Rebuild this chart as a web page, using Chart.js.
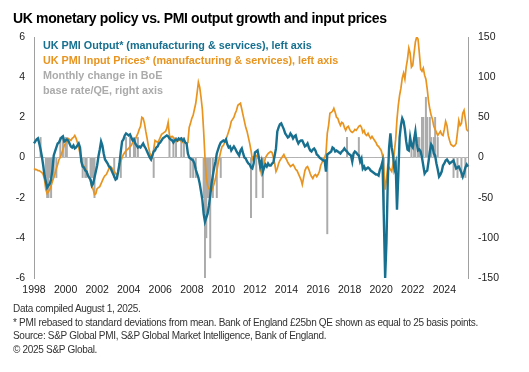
<!DOCTYPE html>
<html>
<head>
<meta charset="utf-8">
<script src="https://cdn.jsdelivr.net/npm/chart.js@4.4.1/dist/chart.umd.min.js"></script>
<style>
  html, body { margin: 0; padding: 0; background: #fff; }
  #wrap { position: relative; width: 529px; height: 372px; font-family: 'Liberation Sans', Arial, sans-serif; }
  #chart { position: absolute; left: 0; top: 0; }
  .title { position: absolute; left: 13px; top: 10px; font-size: 14px; font-weight: bold; color: #000; letter-spacing: -0.35px; white-space: nowrap; }
  .leg { position: absolute; left: 43px; font-size: 10.8px; font-weight: bold; white-space: nowrap; line-height: 14.5px; }
  .foot { position: absolute; left: 13px; top: 302px; font-size: 10px; color: #333; line-height: 13.7px; letter-spacing: -0.3px; white-space: nowrap; }
</style>
</head>
<body>
<div id="wrap">
  <canvas id="chart" width="529" height="372"></canvas>
  <div class="title">UK monetary policy vs. PMI output growth and input prices</div>
  <div class="leg" style="top:38px;color:#17708f">UK PMI Output* (manufacturing &amp; services), left axis</div>
  <div class="leg" style="top:53px;color:#e8941f">UK PMI Input Prices* (manufacturing &amp; services), left axis</div>
  <div class="leg" style="top:68px;color:#ababab">Monthly change in BoE<br>base rate/QE, right axis</div>
  <div class="foot">Data compiled August 1, 2025.<br>* PMI rebased to standard deviations from mean. Bank of England £25bn QE shown as equal to 25 basis points.<br>Source: S&amp;P Global PMI, S&amp;P Global Market Intelligence, Bank of England.<br>© 2025 S&amp;P Global.</div>
</div>
<script>
const startYear = 1998;
const yearTicks = ['1998', '2000', '2002', '2004', '2006', '2008', '2010', '2012', '2014', '2016', '2018', '2020', '2022', '2024'];

// UK PMI output, standard deviations from mean (monthly from Jan 1998)
const pmiOutput = [
  0.7, 0.8, 0.9, 0.95, 0.7, 0.4, 0.05, -0.4, -0.9, -1.2, -1.5, -1.4,
  -1.3, -1.1, -0.6, 0.1, 0.3, 0.5, 0.7, 0.75, 0.9, 1.0, 1.05, 0.8,
  0.85, 0.9, 0.85, 0.7, 0.55, 0.5, 0.6, 0.45, 0.5, 0.6, 0.7, 0.5,
  -0.2, -0.45, -0.5, -0.65, -0.7, -0.9, -1.0, -1.1, -1.4, -1.3, -1.0, -0.7,
  -0.4, 0.05, 0.4, 0.8, 0.6, 0.2, -0.1, -0.2, -0.3, -0.45, -0.5, -0.65,
  -0.8, -0.95, -1.1, -1.05, -0.7, -0.3, 0.3, 0.8, 0.9, 1.1, 1.2, 1.15,
  1.1, 1.15, 1.0, 0.85, 0.9, 0.7, 0.6, 0.5, 0.55, 0.5, 0.6, 0.7,
  0.55, 0.45, 0.3, 0.15, 0.0, -0.1, 0.1, 0.3, 0.35, 0.5, 0.55, 0.7,
  0.75, 0.85, 0.95, 1.0, 1.05, 1.1, 1.05, 0.95, 0.9, 0.85, 0.75, 0.85,
  0.9, 0.85, 0.95, 0.9, 0.95, 0.85, 0.9, 0.75, 0.7, 0.2, 0.0, -0.05,
  -0.1, -0.15, -0.3, -0.6, -0.8, -1.0, -1.3, -1.7, -2.1, -2.8, -3.2, -3.0,
  -2.8, -2.4, -1.9, -1.3, -0.9, -0.5, -0.2, 0.2, 0.4, 0.6, 0.75, 0.8,
  0.85, 0.8, 0.9, 0.65, 0.5, 0.55, 0.35, 0.45, 0.55, 0.45, 0.3, 0.2,
  0.1, 0.35, 0.45, 0.2, 0.0, -0.05, -0.2, -0.3, -0.35, -0.5, -0.55, -0.3,
  0.25, 0.3, 0.35, 0.0, -0.45, -0.2, -0.7, -0.5, -0.35, -0.45, -0.3, -0.4,
  -0.4, -0.3, -0.25, 0.1, 0.45, 1.3, 1.5, 1.65, 1.7, 1.55, 1.4, 1.2,
  1.1, 1.0, 1.05, 1.2, 1.1, 0.95, 1.05, 1.1, 0.85, 0.7, 0.8, 0.85,
  0.85, 0.7, 0.55, 0.6, 0.7, 0.5, 0.35, 0.3, 0.4, 0.45, 0.35, 0.15,
  0.1, 0.0, -0.05, -0.1, -0.15, -0.15, -0.7, 0.15, 0.2, 0.25, 0.3, 0.5,
  0.45, 0.3, 0.35, 0.3, 0.25, 0.2, 0.3, 0.35, 0.45, 0.35, 0.3, 0.2,
  0.15, 0.1, -0.2, 0.2, 0.3, 0.25, 0.15, 0.1, -0.2, -0.05, -0.55, -0.45,
  -0.6, -0.55, -0.5, -0.55, -0.65, -0.7, -0.75, -0.8, -0.85, -0.85, -0.9, -0.6,
  -0.45, -0.2, -3.0, -6.0, -4.2, -1.2, 0.5, 1.2, 0.5, 0.1, -0.55, -0.3,
  -2.6, -0.9, 1.0, 1.6, 1.95, 1.8, 1.4, 0.8, 0.4, 0.35, 1.0, 0.6,
  0.5, 0.9, 1.3, 0.7, 0.35, 0.4, 0.3, 0.0, -0.4, -0.8, -0.7, -0.65,
  -0.2, 0.3, 0.65, 0.55, 0.2, 0.1, -0.3, -0.6, -0.95, -0.85, -0.7, -0.4,
  -0.3, -0.15, -0.1, -0.2, -0.3, -0.25, -0.2, -0.15, -0.35, -0.55, -0.5, -0.45,
  -0.6, -0.75, -0.95, -0.75, -0.5, -0.35, -0.45
];

// UK PMI input prices, standard deviations from mean
const pmiInput = [
  -0.55, -0.6, -0.6, -0.65, -0.65, -0.7, -0.75, -0.85, -1.1, -1.6, -1.8, -1.7,
  -1.6, -1.4, -1.2, -1.0, -0.8, -0.55, -0.35, -0.1, 0.0, 0.2, 0.4, 0.6,
  0.7, 0.85, 0.95, 0.9, 0.85, 0.95, 1.0, 1.1, 0.95, 0.75, 0.5, 0.2,
  -0.2, -0.35, -0.45, -0.55, -0.7, -0.85, -1.0, -1.2, -1.45, -1.6, -1.85, -1.8,
  -1.55, -1.5, -1.45, -1.3, -1.15, -1.0, -0.9, -0.85, -0.7, -0.55, -0.45, -0.5,
  -0.6, -0.7, -0.8, -0.9, -0.7, -0.35, -0.2, 0.0, 0.15, 0.25, 0.35, 0.4,
  0.45, 0.55, 0.6, 0.75, 0.8, 0.9, 1.05, 1.2, 1.4, 1.55, 2.0, 1.95,
  1.7, 1.3, 0.95, 0.55, 0.25, 0.05, 0.0, 0.4, 0.85, 0.8, 0.75, 0.85,
  1.0, 1.15, 1.2, 1.25, 1.3, 1.45, 1.75, 1.1, 1.0, 1.05, 1.0, 0.9,
  0.8, 0.8, 0.85, 0.9, 0.8, 0.75, 0.8, 0.75, 0.7, 0.75, 1.5, 1.7,
  1.95, 2.1, 2.4, 2.7, 3.2, 3.75, 3.5, 3.0, 2.4, 1.3, 0.0, -1.0,
  -1.4, -1.55, -1.6, -1.65, -1.5, -1.3, -1.05, -0.7, -0.3, 0.0, 0.3, 0.55,
  0.6, 0.75, 0.9, 1.1, 1.3, 1.5, 1.8, 1.9, 2.0, 2.2, 2.35, 2.6,
  2.65, 2.7, 2.4, 2.1, 1.8, 1.5, 1.3, 1.0, 0.7, 0.35, -0.1, 0.05,
  0.05, 0.1, 0.0, -0.1, -0.5, -0.85, -0.7, -0.3, 0.0, 0.1, 0.2, 0.25,
  0.3, 0.25, 0.0, -0.3, -0.7, -0.55, -0.3, -0.15, -0.05, 0.05, 0.15, 0.0,
  -0.1, -0.25, -0.35, -0.45, -0.4, -0.35, -0.45, -0.6, -0.65, -0.8, -0.95, -1.1,
  -1.35, -1.0, -0.65, -0.5, -0.45, -0.6, -0.8, -0.95, -1.05, -0.9, -0.85, -0.95,
  -0.85, -0.7, -0.4, -0.25, -0.1, 0.0, 0.2, 1.2, 1.6, 2.2, 2.25, 2.3,
  2.45, 2.25, 2.0, 1.95, 1.75, 1.6, 1.75, 1.7, 1.5, 1.35, 1.5, 1.55,
  1.4, 1.3, 1.25, 1.3, 1.4, 1.35, 1.45, 1.55, 1.6, 1.5, 1.25, 1.35,
  1.15, 1.1, 1.2, 1.05, 0.95, 1.05, 0.95, 0.85, 0.75, 0.6, 0.55, 0.45,
  0.35, 0.1, -0.6, -1.6, -1.1, -0.4, -0.5, -0.6, -0.7, -0.3, 0.3, 0.9,
  1.9, 2.6, 3.1, 3.45, 3.95, 4.2, 3.9, 4.5, 4.9, 5.45, 5.2, 4.5,
  4.6, 5.2, 5.75, 6.0, 5.9, 5.2, 4.4, 4.3, 4.45, 4.1, 3.9, 3.4,
  2.8, 2.4, 2.1, 1.9, 1.55, 1.4, 1.25, 1.1, 1.2, 1.3, 1.15, 1.1,
  1.4, 1.8, 1.6, 1.1, 0.85, 0.65, 0.6, 0.55, 0.6, 0.7, 1.25, 1.85,
  1.6, 1.7, 2.2, 2.35, 1.9, 1.4, 1.3
];

// Monthly change in BoE base rate / QE (basis points, £25bn QE = 25bp)
const boeMonths = [
  '1998-06', '1998-10', '1998-11', '1998-12', '1999-01', '1999-02', '1999-04', '1999-06', '1999-09', '1999-11',
  '2000-01', '2000-02', '2001-02', '2001-04', '2001-05', '2001-08', '2001-09', '2001-10', '2001-11',
  '2003-02', '2003-07', '2003-11', '2004-02', '2004-05', '2004-06', '2004-08', '2005-08',
  '2006-08', '2006-11', '2007-01', '2007-05', '2007-07', '2007-12', '2008-02', '2008-04',
  '2008-10', '2008-11', '2008-12', '2009-01', '2009-02', '2009-03', '2009-05', '2009-08', '2009-11',
  '2011-10', '2012-02', '2012-07', '2016-08', '2017-11', '2018-08', '2020-03', '2021-12',
  '2022-02', '2022-03', '2022-05', '2022-06', '2022-08', '2022-09', '2022-11', '2022-12',
  '2023-02', '2023-03', '2023-05', '2023-06', '2023-08', '2024-08', '2024-11', '2025-02', '2025-05'
];
const boeChange = [
  25, -25, -50, -50, -25, -50, -25, -25, 25, 25,
  25, 25, -25, -25, -25, -25, -25, -25, -50,
  -25, -25, 25, 25, 25, 25, 25, -25,
  25, 25, 25, 25, 25, -25, -25, -25,
  -50, -150, -100, -50, -50, -125, -50, -50, -25,
  -75, -50, -50, -95, 25, 25, -65, 15,
  25, 25, 25, 25, 50, 50, 75, 50,
  50, 25, 25, 50, 25, -25, -25, -25, -25
];

const labels = pmiOutput.map((v, i) => {
  const y = startYear + Math.floor(i / 12);
  const m = (i % 12) + 1;
  return y + '-' + String(m).padStart(2, '0');
});
const boeSeries = labels.map(l => {
  const k = boeMonths.indexOf(l);
  return k >= 0 ? boeChange[k] : 0;
});

Chart.defaults.font.family = "'Liberation Sans', Arial, sans-serif";
Chart.defaults.font.size = 10.5;
Chart.defaults.color = '#222';

const ctx = document.getElementById('chart').getContext('2d');
const chart = new Chart(ctx, {
  type: 'bar',
  data: {
    labels: labels,
    datasets: [
      {
        type: 'line',
        label: 'UK PMI Output',
        data: pmiOutput,
        borderColor: '#17708f',
        borderWidth: 2.4,
        pointRadius: 0,
        tension: 0,
        yAxisID: 'y',
        order: 0
      },
      {
        type: 'line',
        label: 'UK PMI Input Prices',
        data: pmiInput,
        borderColor: '#e8941f',
        borderWidth: 1.7,
        pointRadius: 0,
        tension: 0,
        yAxisID: 'y',
        order: 1
      },
      {
        type: 'bar',
        label: 'Monthly change in BoE base rate/QE',
        data: boeSeries,
        backgroundColor: '#ababab',
        barPercentage: 1,
        categoryPercentage: 1,
        yAxisID: 'y2',
        order: 2
      }
    ]
  },
  options: {
    responsive: false,
    animation: false,
    devicePixelRatio: 1,
    layout: { padding: { top: 37, left: 0, right: 0, bottom: 0 } },
    plugins: {
      legend: { display: false },
      tooltip: { enabled: false }
    },
    scales: {
      x: {
        type: 'category',
        offset: false,
        grid: { display: false, drawTicks: false },
        border: { display: false },
        ticks: {
          autoSkip: false,
          maxRotation: 0,
          padding: 6,
          callback: function(val, idx) {
            const l = labels[idx];
            const yr = l.slice(0, 4);
            return (l.endsWith('-01') && yearTicks.includes(yr)) ? yr : null;
          }
        },
        afterFit: s => { s.height = 94; }
      },
      y: {
        position: 'left',
        min: -6,
        max: 6,
        grid: { display: false, drawTicks: false },
        border: { display: true, color: '#a0a0a0', width: 1 },
        ticks: { stepSize: 2, padding: 9 },
        afterFit: s => { s.width = 34; }
      },
      y2: {
        position: 'right',
        min: -150,
        max: 150,
        grid: {
          drawTicks: false,
          color: c => c.tick && c.tick.value === 0 ? '#cfcfcf' : 'rgba(0,0,0,0)'
        },
        border: { display: true, color: '#a0a0a0', width: 1 },
        ticks: { stepSize: 50, padding: 10 },
        afterFit: s => { s.width = 61; }
      }
    }
  }
});
</script>
</body>
</html>
